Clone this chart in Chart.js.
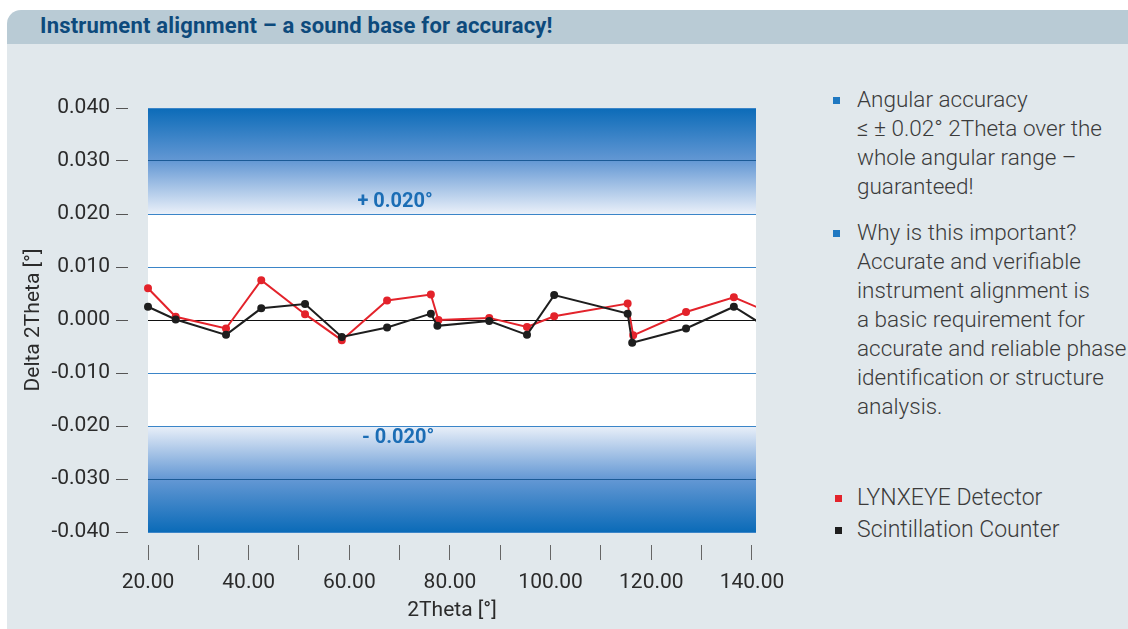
<!DOCTYPE html>
<html>
<head>
<meta charset="utf-8">
<script src="https://cdn.jsdelivr.net/npm/chart.js@4.4.1/dist/chart.umd.min.js"></script>
<style>
  html, body { margin: 0; padding: 0; background: #fff; }
  body { width: 1128px; height: 629px; position: relative; overflow: hidden; font-family: Roboto, "Noto Sans", sans-serif; }
  .head { position: absolute; left: 7px; top: 10px; right: 0; height: 34px; background: #b9cbd5; border-top-left-radius: 14px; }
  .head h1 { margin: 0; position: absolute; left: 33px; top: 3px; font: bold 22px Roboto, sans-serif; color: #0d4a7c; white-space: nowrap; letter-spacing: 0.2px; }
  .panel { position: absolute; left: 7px; top: 44px; right: 0; bottom: 0; background: #e1e8ec; }
  .wrap { position: absolute; left: 0; top: 0; width: 800px; height: 629px; }
  .side { position: absolute; left: 857px; top: 85px; width: 300px; font-weight: 300; font-size: 22.5px; line-height: 29px; color: #3b3b3b; }
  .side p { margin: 0 0 17px 0; position: relative; white-space: nowrap; }
  .side p::before { content: ""; position: absolute; left: -24px; top: 12px; width: 7px; height: 7px; background: var(--c, #1f78c1); }
  .legend { position: absolute; left: 857px; top: 482px; font-weight: 300; font-size: 23px; line-height: 32px; color: #3b3b3b; }
  .legend div { position: relative; white-space: nowrap; }
  .legend div::before { content: ""; position: absolute; left: -22px; top: 13px; width: 7px; height: 7px; background: var(--c); }
</style>
</head>
<body>
<div class="head"><h1>Instrument alignment – a sound base for accuracy!</h1></div>
<div class="panel"></div>
<div class="side">
  <p>Angular accuracy<br>≤ ± 0.02° 2Theta over the<br>whole angular range –<br>guaranteed!</p>
  <p>Why is this important?<br>Accurate and verifiable<br>instrument alignment is<br>a basic requirement for<br>accurate and reliable phase<br>identification or structure<br>analysis.</p>
</div>
<div class="legend">
  <div style="--c:#e3232b">LYNXEYE Detector</div>
  <div style="--c:#1e1e1e">Scintillation Counter</div>
</div>
<div class="wrap"><canvas id="chart"></canvas></div>
<script>
// 2Theta positions of the measured peaks
const lynxeyeX = [20, 25.5, 35.5, 42.5, 51.2, 58.5, 67.5, 76.2, 77.7, 87.8, 95.3, 100.7, 115.3, 116.4, 126.9, 136.4, 143];
const lynxeyeY = [0.0060, 0.0006, -0.0016, 0.0075, 0.0011, -0.0038, 0.0037, 0.0048, 0.0000, 0.0004, -0.0013, 0.0007, 0.0031, -0.0029, 0.0015, 0.0043, 0.0016];
const scintX = [20, 25.5, 35.5, 42.5, 51.2, 58.5, 67.5, 76.2, 77.5, 87.8, 95.3, 100.7, 115.3, 116.2, 126.9, 136.4, 143];
const scintY = [0.0025, 0.0001, -0.0028, 0.0022, 0.0030, -0.0032, -0.0014, 0.0012, -0.0011, -0.0002, -0.0028, 0.0047, 0.0012, -0.0043, -0.0016, 0.0025, -0.0014];
const limitValues = [0.02, -0.02];
const limitLabels = ["+ 0.020°", "- 0.020°"];

const toPoints = (xs, ys) => xs.map((x, i) => ({ x, y: ys[i] }));

const bands = {
  id: "bands",
  beforeDraw(chart) {
    const { ctx, chartArea: a, scales: { y } } = chart;
    ctx.save();
    ctx.fillStyle = "#fff";
    ctx.fillRect(a.left, a.top, a.right - a.left, a.bottom - a.top);
    const top = y.getPixelForValue(0.04), hi = y.getPixelForValue(0.02);
    let g = ctx.createLinearGradient(0, top, 0, hi);
    g.addColorStop(0, "#0b6bb8");
    g.addColorStop(0.5, "#6498d4");
    g.addColorStop(1, "#eaf0f9");
    ctx.fillStyle = g;
    ctx.fillRect(a.left, top, a.right - a.left, hi - top);
    const lo = y.getPixelForValue(-0.02), bot = y.getPixelForValue(-0.04);
    g = ctx.createLinearGradient(0, lo, 0, bot);
    g.addColorStop(0, "#eaf0f9");
    g.addColorStop(0.5, "#6498d4");
    g.addColorStop(1, "#0b6bb8");
    ctx.fillStyle = g;
    ctx.fillRect(a.left, lo, a.right - a.left, bot - lo);
    ctx.restore();
  },
  afterDraw(chart) {
    const { ctx, scales: { x, y } } = chart;
    ctx.save();
    ctx.font = "bold 20px Roboto, sans-serif";
    ctx.fillStyle = "#1b6db5";
    ctx.textAlign = "center";
    ctx.textBaseline = "middle";
    ctx.fillText(limitLabels[0], x.getPixelForValue(69.1), y.getPixelForValue(limitValues[0] + 0.0023));
    ctx.fillText(limitLabels[1], x.getPixelForValue(69.7), y.getPixelForValue(limitValues[1] - 0.0023));
    ctx.restore();
  },
};

new Chart(document.getElementById("chart"), {
  type: "line",
  data: {
    datasets: [
      {
        label: "Scintillation Counter",
        data: toPoints(scintX, scintY),
        borderColor: "#1e1e1e",
        backgroundColor: "#1e1e1e",
        borderWidth: 2,
        pointRadius: 3,
        clip: { left: 10, top: 10, right: 0, bottom: 10 },
      },
      {
        label: "LYNXEYE Detector",
        data: toPoints(lynxeyeX, lynxeyeY),
        borderColor: "#e3232b",
        backgroundColor: "#e3232b",
        borderWidth: 2,
        pointRadius: 3,
        clip: { left: 10, top: 10, right: 0, bottom: 10 },
      },
    ],
  },
  options: {
    responsive: true,
    maintainAspectRatio: false,
    animation: false,
    layout: { padding: { left: 0, top: 108, right: 44, bottom: 0 } },
    plugins: { legend: { display: false }, tooltip: false },
    scales: {
      x: {
        type: "linear",
        min: 20,
        max: 140.8,
        afterFit: (s) => { s.height = 97; },
        border: { display: false },
        grid: {
          drawOnChartArea: false,
          tickLength: 28,
          tickColor: "#666",
          tickBorderDash: [0, 13, 15, 40],
        },
        ticks: {
          stepSize: 10,
          includeBounds: false,
          maxRotation: 0,
          autoSkip: false,
          padding: 10,
          color: "#2b2b2b",
          font: { family: "Roboto", size: 21 },
          callback: (v) => (v % 20 === 0 ? v.toFixed(2) : ""),
        },
        title: {
          display: true,
          text: "2Theta [°]",
          color: "#2b2b2b",
          font: { family: "Roboto", size: 21 },
          padding: { top: 0, bottom: 6 },
        },
      },
      y: {
        min: -0.04,
        max: 0.04,
        afterFit: (s) => { s.width = 148; },
        border: { display: false },
        grid: {
          color: (c) => {
            const v = Math.round(c.tick.value * 1000);
            if (v === 0) return "#111";
            if (Math.abs(v) === 30) return "#1b5a96";
            return "#3b85c8";
          },
          tickColor: "#555",
          tickLength: 32,
          tickBorderDash: [12, 40],
        },
        ticks: {
          stepSize: 0.01,
          padding: 6,
          color: "#2b2b2b",
          font: { family: "Roboto", size: 21 },
          callback: (v) => v.toFixed(3),
        },
        title: {
          display: true,
          text: "Delta 2Theta [°]",
          color: "#2b2b2b",
          font: { family: "Roboto", size: 21 },
          padding: { top: 21, bottom: 0 },
        },
      },
    },
  },
  plugins: [bands],
});
</script>
</body>
</html>
